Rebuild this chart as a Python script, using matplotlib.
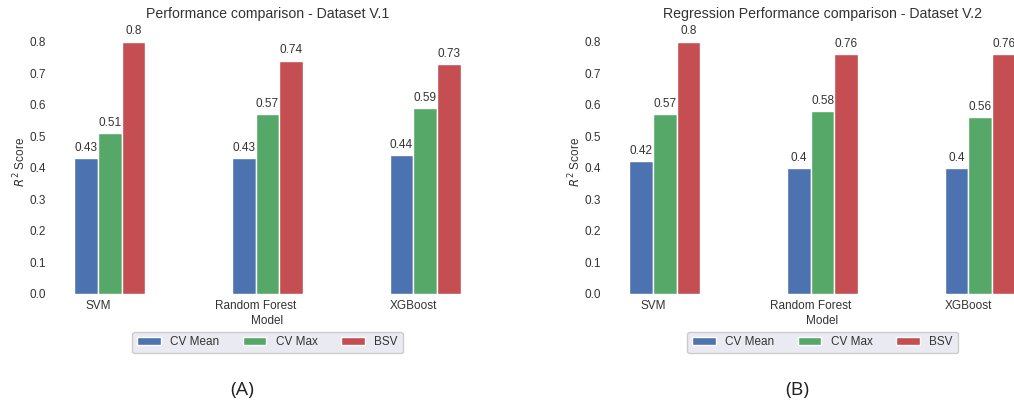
import numpy as np
import matplotlib
matplotlib.use("Agg")
import matplotlib.pyplot as plt

plt.rcParams["font.family"] = ["Liberation Sans", "DejaVu Sans"]
plt.rcParams["text.color"] = "0.2"
plt.rcParams["axes.labelcolor"] = "0.2"
plt.rcParams["xtick.color"] = "0.2"
plt.rcParams["ytick.color"] = "0.2"

models = ["SVM", "Random Forest", "XGBoost"]
series_names = ["CV Mean", "CV Max", "BSV"]
colors = ["#4C72B0", "#55A868", "#C44E52"]

v1_cv_mean = [0.43, 0.43, 0.44]
v1_cv_max = [0.51, 0.57, 0.59]
v1_bsv = [0.80, 0.74, 0.73]

v2_cv_mean = [0.42, 0.40, 0.40]
v2_cv_max = [0.57, 0.58, 0.56]
v2_bsv = [0.80, 0.76, 0.76]

yticks = [0.0, 0.1, 0.2, 0.3, 0.4, 0.5, 0.6, 0.7, 0.8]

W, H = 1014, 405
fig = plt.figure(figsize=(W / 100, H / 100), dpi=100)
fig.patch.set_facecolor("white")

FS = 8.5
width = 0.15


def panel(rect, title, data):
    ax = fig.add_axes(rect)
    ax.set_facecolor("white")
    x = np.arange(len(models))
    for i, (name, vals, c) in enumerate(zip(series_names, data, colors)):
        bars = ax.bar(x + (i - 0.5) * width, vals, width, label=name,
                      color=c, edgecolor="white", linewidth=1.0)
        ax.bar_label(bars, labels=[f"{v:g}" for v in vals], padding=3,
                     fontsize=FS, color="0.2")
    ax.set_xticks(x)
    ax.set_xticklabels(models, fontsize=FS)
    ax.set_yticks(yticks)
    ax.set_yticklabels([f"{t:.1f}" for t in yticks], fontsize=FS)
    ax.tick_params(axis="x", length=0, pad=4.5)
    ax.tick_params(axis="y", length=0, pad=6.5)
    for s in ax.spines.values():
        s.set_visible(False)
    ax.set_xlabel("Model", fontsize=FS, labelpad=2)
    ax.set_ylabel("$R^2$ Score", fontsize=FS, labelpad=1)
    ax.set_title(title, fontsize=10.2, pad=8)
    ax.legend(loc="upper center", bbox_to_anchor=(0.5, -0.12), ncol=3,
              fontsize=FS, frameon=True, facecolor="#EAEAF2",
              edgecolor="0.8", framealpha=1.0)
    return ax


bottom = (H - 294) / H
height = (294 - 29) / H
panel([55 / W, bottom, 425 / W, height],
      "Performance comparison - Dataset V.1",
      [v1_cv_mean, v1_cv_max, v1_bsv])
panel([610 / W, bottom, 425 / W, height],
      "Regression Performance comparison - Dataset V.2",
      [v2_cv_mean, v2_cv_max, v2_bsv])

fig.text(242 / W, 1 - 390 / H, "(A)", ha="center", va="center",
         fontsize=14, family="Open Sans", color="#222222")
fig.text(797 / W, 1 - 390 / H, "(B)", ha="center", va="center",
         fontsize=14, family="Open Sans", color="#222222")

fig.savefig("out.png", dpi=100, facecolor="white")
